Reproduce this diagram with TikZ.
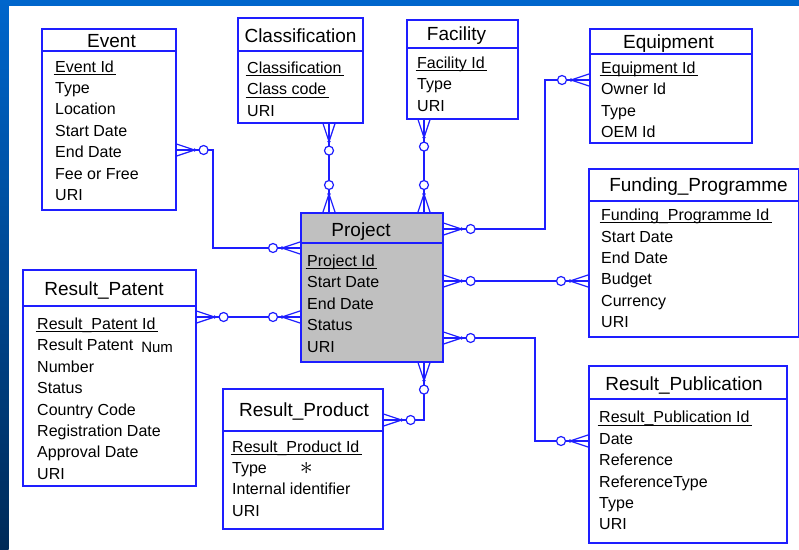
\documentclass[tikz,border=0pt]{standalone}
\usepackage{fontspec}
\setmainfont{Liberation Sans}
\usepackage{amsmath}
\usepackage{amssymb}
\usepackage{tikz}

\definecolor{erblue}{RGB}{30,30,255}
\definecolor{slideblue}{RGB}{0,102,204}
\definecolor{slidenavy}{RGB}{0,42,88}
\definecolor{keygray}{RGB}{192,192,192}
% underlined key attribute
\newcommand{\pkey}[1]{\setbox0=\hbox{#1}\rlap{\hspace{-1.5pt}\rule[-2.8pt]{\dimexpr\wd0+4pt\relax}{1pt}}#1}

\tikzset{
	entity/.style={rectangle, draw=erblue, line width=1.6pt, anchor=north west, inner sep=0pt},
	etitle/.style={anchor=base, font=\fontsize{19}{22}\selectfont, inner sep=0pt},
	% base of a field list = baseline of its last line
	fields/.style={anchor=base west, align=left, font=\fontsize{16}{21.4}\selectfont, inner sep=0pt},
	divider/.style={draw=erblue, line width=1.3pt},
	rel/.style={draw=erblue, line width=1.2pt},
	crow/.pic={
		\draw[rel] (0,-6) -- (18,0) -- (0,6) (0,0) -- (18,0);
		\fill[erblue] (18,0) circle (1.8pt);
		\draw[rel, fill=white] (27,0) circle (4.5pt);
	}
}

\begin{document}
\begin{tikzpicture}[x=1pt, y=-1pt]
		% slide frame
		\useasboundingbox (0,0) rectangle (799,549);
		\fill[white] (0,0) rectangle (799,549);
		\fill[slideblue] (0,0) rectangle (799,5.7);
		\shade[top color=slideblue, bottom color=slidenavy] (0,0) rectangle (8.5,549);

		% Entities, placed by their top left corner
		\path (41,28) node[entity, minimum width=134pt, minimum height=181pt](event){}
		(237,17) node[entity, minimum width=125pt, minimum height=105pt](classif){}
		(406,19) node[entity, minimum width=111pt, minimum height=99pt](facility){}
		(589,28) node[entity, minimum width=162pt, minimum height=114pt](equip){}
		(588,168) node[entity, minimum width=210pt, minimum height=168pt](funding){}
		(300,212) node[entity, fill=keygray, minimum width=142pt, minimum height=149pt](project){}
		(22,269) node[entity, minimum width=173pt, minimum height=216pt](patent){}
		(222,388) node[entity, minimum width=160pt, minimum height=140pt](product){}
		(588,365) node[entity, minimum width=198pt, minimum height=177pt](publication){};

		\draw[divider] (event.west |- 0,51) -- (event.east |- 0,51)
		(classif.west |- 0,51) -- (classif.east |- 0,51)
		(facility.west |- 0,48) -- (facility.east |- 0,48)
		(equip.west |- 0,54) -- (equip.east |- 0,54)
		(funding.west |- 0,201) -- (funding.east |- 0,201)
		(project.west |- 0,243) -- (project.east |- 0,243)
		(patent.west |- 0,306) -- (patent.east |- 0,306)
		(product.west |- 0,431) -- (product.east |- 0,431)
		(publication.west |- 0,399) -- (publication.east |- 0,399);

		% Titles
		\path (111.5,47.7) node[etitle]{Event}
		(300.5,42.7) node[etitle]{Classification}
		(456.5,40) node[etitle]{Facility}
		(668.5,48) node[etitle]{Equipment}
		(698.5,191.7) node[etitle]{Funding\_Programme}
		(361,236) node[etitle]{Project}
		(104,295) node[etitle]{Result\_Patent}
		(304,416.7) node[etitle]{Result\_Product}
		(684,390) node[etitle]{Result\_Publication};

		% Attributes
		\path (55,200.4) node[fields]{\pkey{Event Id}\\Type\\Location\\Start Date\\End Date\\Fee or Free\\URI}
		(247,116.3) node[fields]{\pkey{Classification}\\\pkey{Class code}\\URI}
		(417,111) node[fields]{\pkey{Facility Id}\\Type\\URI}
		(601,137.5) node[fields]{\pkey{Equipment Id}\\Owner Id\\Type\\OEM Id}
		(601,327.6) node[fields]{\pkey{Funding\_Programme Id}\\Start Date\\End Date\\Budget\\Currency\\URI}
		(307,352) node[fields]{\pkey{Project Id}\\Start Date\\End Date\\Status\\URI}
		(37,479.2) node[fields]{\pkey{Result\_Patent Id}\\Result Patent\hspace{8pt}\raisebox{-1.5pt}{\fontsize{15}{15}\selectfont Num}\\Number\\Status\\Country Code\\Registration Date\\Approval Date\\URI}
		(232,516.3) node[fields]{\pkey{Result\_Product Id}\\Type\hspace{33pt}\raisebox{-1pt}{\scalebox{1.5}{$\ast$}}\\Internal identifier\\URI}
		(599,529.8) node[fields]{\pkey{Result\_Publication Id}\\Date\\Reference\\ReferenceType\\Type\\URI};

		% Relationships
		\draw[rel] (event.east |- 0,150) -| (213,248) -- (project.west |- 0,248);
		\draw[rel] (classif.south -| 329,0) -- (project.north -| 329,0);
		\draw[rel] (facility.south -| 424,0) -- (project.north -| 424,0);
		\draw[rel] (project.east |- 0,229) -| (545,80) -- (equip.west |- 0,80);
		\draw[rel] (project.east |- 0,281) -- (funding.west |- 0,281);
		\draw[rel] (project.east |- 0,338) -| (535,441) -- (publication.west |- 0,441);
		\draw[rel] (patent.east |- 0,317) -- (project.west |- 0,317);
		\draw[rel] (project.south -| 424,0) |- (product.east |- 0,420);

		% crow's feet
		\pic[rotate=0] at (event.east |- 0,150) {crow};
		\pic[rotate=180] at (project.west |- 0,248) {crow};
		\pic[rotate=-90] at (classif.south -| 329,0) {crow};
		\pic[rotate=90] at (project.north -| 329,0) {crow};
		\pic[rotate=-90] at (facility.south -| 424,0) {crow};
		\pic[rotate=90] at (project.north -| 424,0) {crow};
		\pic[rotate=0] at (project.east |- 0,229) {crow};
		\pic[rotate=180] at (equip.west |- 0,80) {crow};
		\pic[rotate=0] at (project.east |- 0,281) {crow};
		\pic[rotate=180] at (funding.west |- 0,281) {crow};
		\pic[rotate=0] at (project.east |- 0,338) {crow};
		\pic[rotate=180] at (publication.west |- 0,441) {crow};
		\pic[rotate=0] at (patent.east |- 0,317) {crow};
		\pic[rotate=180] at (project.west |- 0,317) {crow};
		\pic[rotate=-90] at (project.south -| 424,0) {crow};
		\pic[rotate=0] at (product.east |- 0,420) {crow};
\end{tikzpicture}
\end{document}
